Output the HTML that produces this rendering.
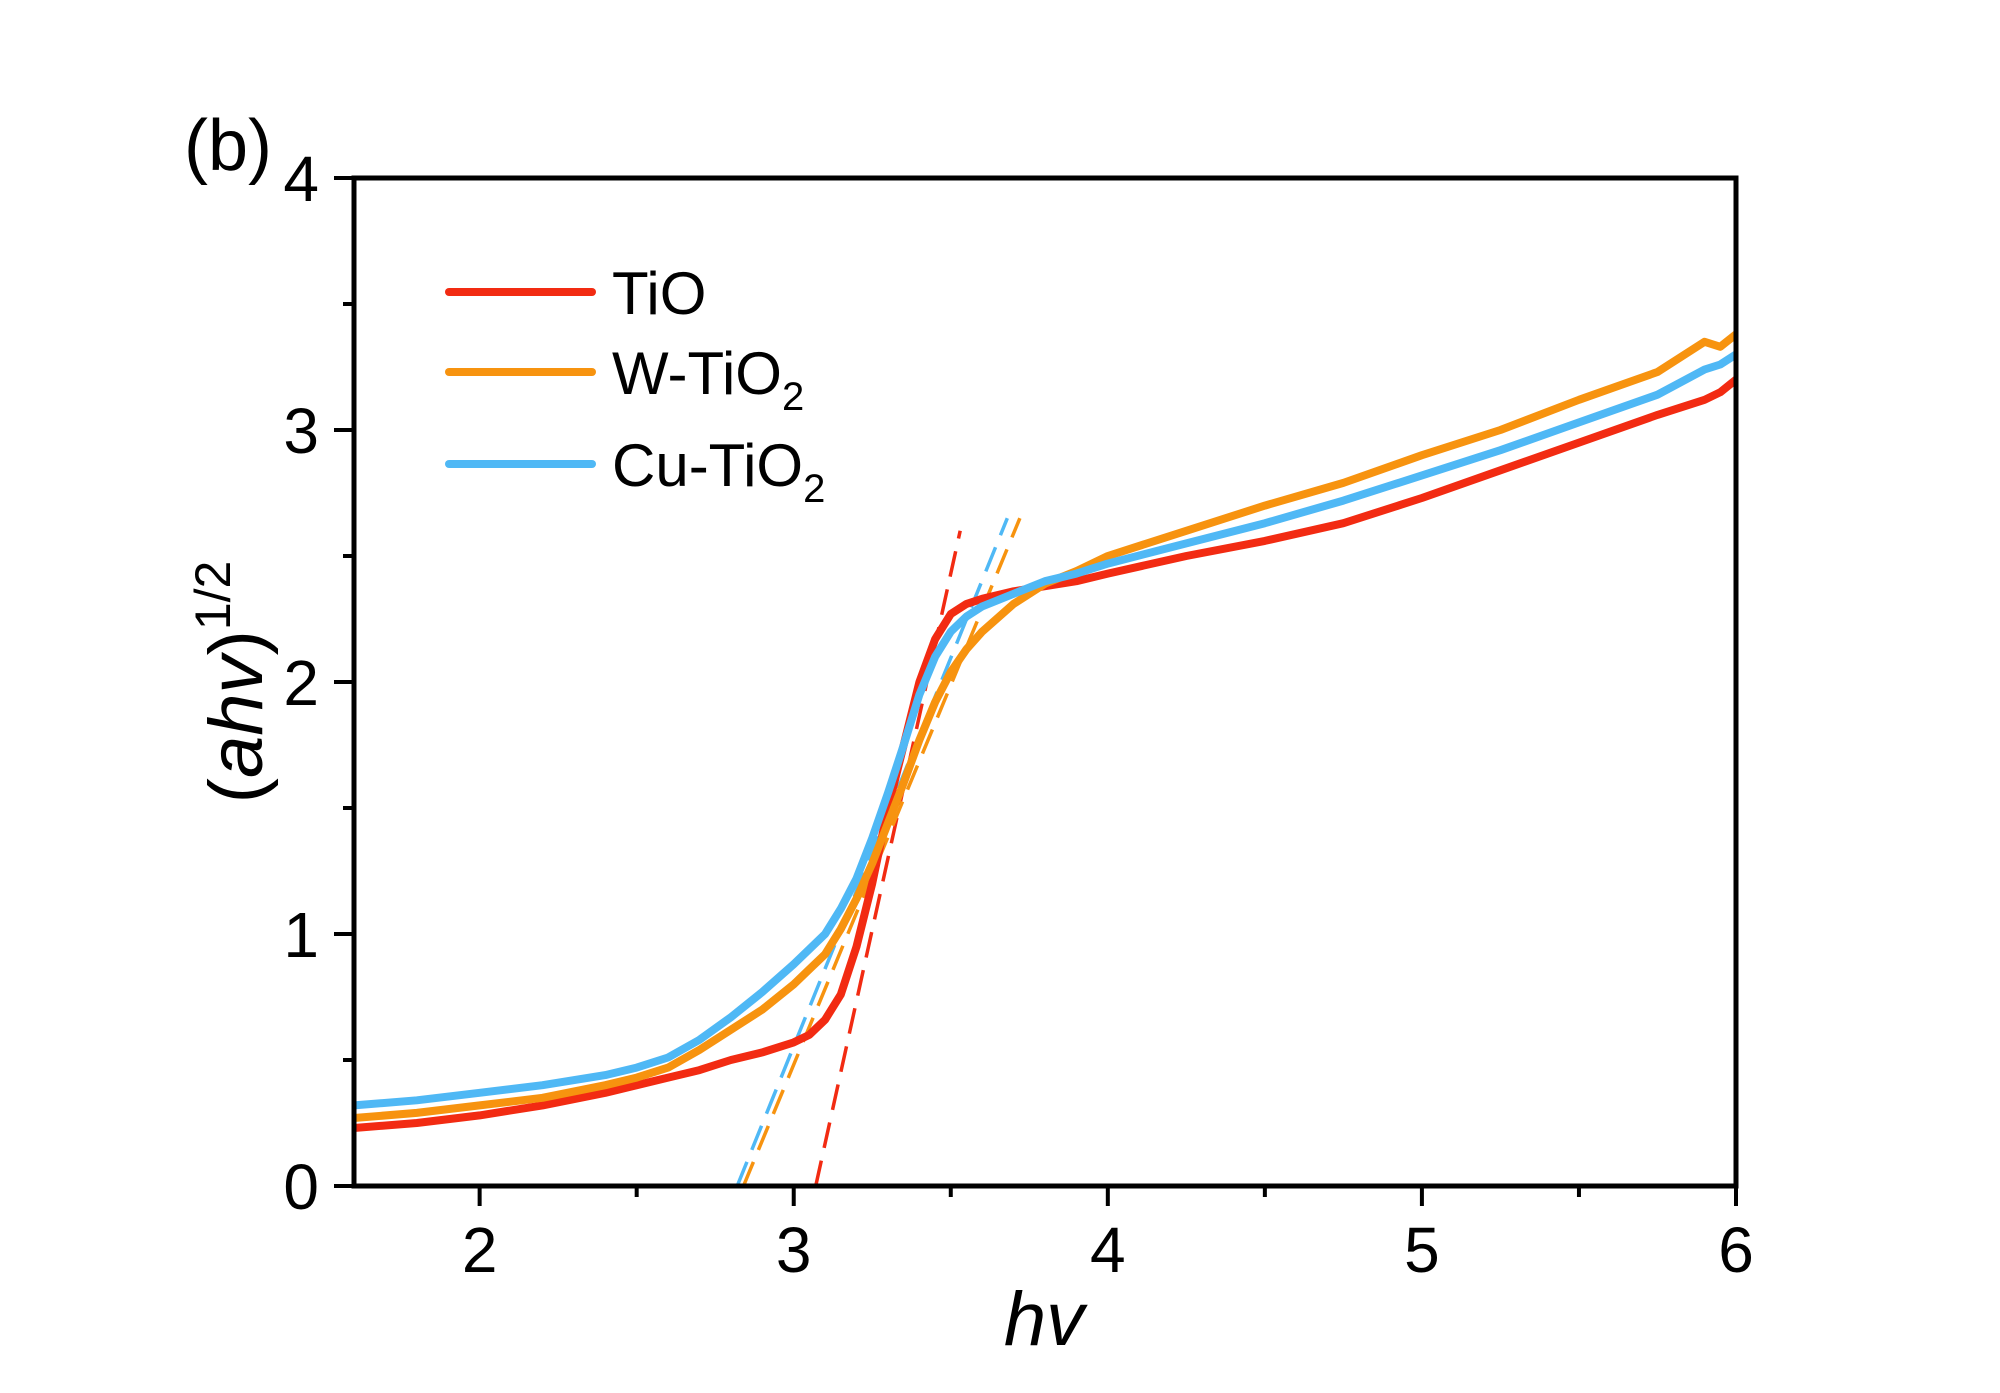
<!DOCTYPE html>
<html><head><meta charset="utf-8"><style>
html,body{margin:0;padding:0;background:#fff;}
svg{display:block;font-family:"Liberation Sans",Arial,sans-serif;}
</style></head><body>
<svg id="chart" width="2000" height="1393" viewBox="0 0 2000 1393">
<g id="plot"></g>
<g id="axes"></g>
<text x="184" y="170" font-size="72">(b)</text>
<text x="1044" y="1345" font-size="76" font-style="italic" text-anchor="middle">hv</text>
<text transform="translate(262,682) rotate(-90)" font-size="76" text-anchor="middle">(<tspan font-style="italic">ahv</tspan>)<tspan font-size="50" dy="-32">1/2</tspan></text>
<g>
<line x1="449" y1="292" x2="592" y2="292" stroke="#f22b12" stroke-width="8" stroke-linecap="round"/>
<text x="612" y="314" font-size="60">TiO</text>
<line x1="449" y1="372" x2="592" y2="372" stroke="#f7930f" stroke-width="8" stroke-linecap="round"/>
<text x="612" y="394" font-size="60">W-TiO<tspan font-size="40" dy="16">2</tspan></text>
<line x1="449" y1="464" x2="592" y2="464" stroke="#4fb8f5" stroke-width="8" stroke-linecap="round"/>
<text x="612" y="486" font-size="60">Cu-TiO<tspan font-size="40" dy="16">2</tspan></text>
</g>
</svg>
<script>
const xs = [1.6,1.8,2,2.2,2.4,2.5,2.6,2.7,2.8,2.9,3.0,3.05,3.1,3.15,3.2,3.25,3.3,3.35,3.4,3.45,3.5,3.55,3.6,3.7,3.8,3.9,4,4.25,4.5,4.75,5,5.25,5.5,5.75,5.9,5.95,6];
const tio = [0.23,0.25,0.28,0.32,0.37,0.40,0.43,0.46,0.5,0.53,0.57,0.6,0.66,0.76,0.95,1.2,1.5,1.75,2.0,2.17,2.27,2.31,2.33,2.36,2.38,2.4,2.43,2.5,2.56,2.63,2.73,2.84,2.95,3.06,3.12,3.15,3.2];
const wtio = [0.27,0.29,0.32,0.35,0.40,0.43,0.47,0.54,0.62,0.7,0.8,0.86,0.92,1.02,1.14,1.28,1.44,1.6,1.77,1.92,2.04,2.13,2.2,2.31,2.39,2.44,2.5,2.6,2.7,2.79,2.9,3.0,3.12,3.23,3.35,3.33,3.38];
const cutio = [0.32,0.34,0.37,0.40,0.44,0.47,0.51,0.58,0.67,0.77,0.88,0.94,1.0,1.1,1.22,1.38,1.56,1.75,1.95,2.1,2.2,2.26,2.3,2.35,2.4,2.43,2.47,2.55,2.63,2.72,2.82,2.92,3.03,3.14,3.24,3.26,3.3];
const fitTio = [[3.07,0],[3.53,2.6]];
const fitW = [[2.84,0],[3.72,2.65]];
const fitCu = [[2.82,0],[3.68,2.65]];
const xTicks = [2,3,4,5,6];
const yTicks = [0,1,2,3,4];
const X0=354,X1=1736,Y0=1186,Y1=178,xmin=1.6,xmax=6,ymin=0,ymax=4;
const sx=v=>X0+(v-xmin)/(xmax-xmin)*(X1-X0);
const sy=v=>Y0-(v-ymin)/(ymax-ymin)*(Y0-Y1);
const NS="http://www.w3.org/2000/svg";
const plot=document.getElementById('plot'), axes=document.getElementById('axes');
function mk(tag,attrs,parent){const e=document.createElementNS(NS,tag);for(const k in attrs)e.setAttribute(k,attrs[k]);parent.appendChild(e);return e;}
function series(ys,color,name){
  const d=xs.map((x,i)=>(i?'L':'M')+sx(x).toFixed(1)+','+sy(ys[i]).toFixed(1)).join(' ');
  const p=mk('path',{d:d,fill:'none',stroke:color,'stroke-width':8,'stroke-linejoin':'round'},plot);
  
  
}
function fit(pts,color,name){
  const l=mk('line',{x1:sx(pts[0][0]),y1:sy(pts[0][1]),x2:sx(pts[1][0]),y2:sy(pts[1][1]),stroke:color,'stroke-width':3.5,'stroke-dasharray':'26 13'},plot);
  
  
}
fit(fitTio,'#f22b12','fit-line-tio');
fit(fitW,'#f7930f','fit-line-w-tio2');
fit(fitCu,'#4fb8f5','fit-line-cu-tio2');
series(tio,'#f22b12','series-tio');
series(wtio,'#f7930f','series-w-tio2');
series(cutio,'#4fb8f5','series-cu-tio2');
const frame=mk('rect',{x:X0,y:Y1,width:X1-X0,height:Y0-Y1,fill:'none',stroke:'#000','stroke-width':5},axes);


for(let v=2;v<=6.001;v+=0.5){
  const major=Math.abs(v-Math.round(v))<1e-6;
  const t=mk('line',{x1:sx(v),y1:Y0,x2:sx(v),y2:Y0+(major?20:11),stroke:'#000','stroke-width':4},axes);
  
  
}
xTicks.forEach(v=>{
  const t=mk('text',{x:sx(v),y:1272,'font-size':64,'text-anchor':'middle'},axes);
  t.textContent=v;
  
  
});
for(let v=0;v<=4.001;v+=0.5){
  const major=Math.abs(v-Math.round(v))<1e-6;
  const t=mk('line',{x1:X0,y1:sy(v),x2:X0-(major?20:11),y2:sy(v),stroke:'#000','stroke-width':4},axes);
  
  
}
yTicks.forEach(v=>{
  const t=mk('text',{x:319,y:sy(v)+23,'font-size':64,'text-anchor':'end'},axes);
  t.textContent=v;
  
  
});
</script>
</body></html>
